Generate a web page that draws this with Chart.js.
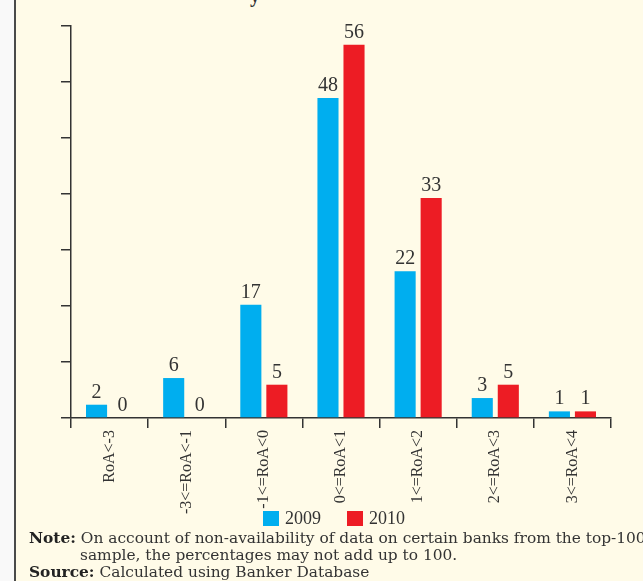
<!DOCTYPE html>
<html>
<head>
<meta charset="utf-8">
<script src="https://cdn.jsdelivr.net/npm/chart.js@4.4.1/dist/chart.umd.min.js"></script>
<style>
  html, body { margin: 0; padding: 0; background: #f9f9f9; }
  #page {
    position: absolute; left: 14px; top: 0; width: 629px; height: 581px;
    background: #fffbe8; border-left: 2px solid #4a4a4a; overflow: hidden;
    font-family: "Liberation Serif", serif; color: #333;
  }
  #wrap { position: absolute; left: 0; top: 0; width: 627px; height: 516px; }
  .title { position: absolute; left: 234px; top: -16px; font-weight: bold; font-size: 20px; }
  #legend { position: absolute; top: 509px; left: 247px; display: flex; font-size: 18px; line-height: 18px; }
  #legend span.item { display: flex; align-items: center; margin-right: 26px; }
  #legend span.box { display: inline-block; width: 16px; height: 15px; margin-right: 6px; }
  .note { position: absolute; left: 13px; font-family: "DejaVu Serif", serif; font-size: 15.4px; white-space: nowrap; line-height: 17px; }
  .note b { color: #222; }
</style>
</head>
<body>
<div id="page">
  <div class="title">y</div>
  <div id="wrap"><canvas id="chart"></canvas></div>
  <div id="legend"></div>
  <div class="note" style="top:530px"><b>Note:</b> On account of non-availability of data on certain banks from the top-100</div>
  <div class="note" style="top:547px; left:64px">sample, the percentages may not add up to 100.</div>
  <div class="note" style="top:564px"><b>Source:</b> Calculated using Banker Database</div>
</div>
<script>
const categories = ["RoA<-3", "-3<=RoA<-1", "-1<=RoA<0", "0<=RoA<1", "1<=RoA<2", "2<=RoA<3", "3<=RoA<4"];
const values2009 = [2, 6, 17, 48, 22, 3, 1];
const values2010 = [0, 0, 5, 56, 33, 5, 1];
const seriesNames = ["2009", "2010"];
const yTicks = [0, 8.4, 16.8, 25.2, 33.6, 42, 50.4, 58.8];

const valueLabels = {
  id: 'valueLabels',
  afterDatasetsDraw(chart) {
    const ctx = chart.ctx;
    ctx.save();
    ctx.font = '20px "Liberation Serif", serif';
    ctx.fillStyle = '#333';
    ctx.textAlign = 'center';
    ctx.textBaseline = 'alphabetic';
    chart.data.datasets.forEach((ds, i) => {
      chart.getDatasetMeta(i).data.forEach((bar, j) => {
        ctx.fillText(ds.data[j], bar.x, bar.y - 7);
      });
    });
    ctx.restore();
  }
};

const chart = new Chart(document.getElementById('chart'), {
  type: 'bar',
  data: {
    labels: categories,
    datasets: [
      { label: seriesNames[0], data: values2009, backgroundColor: '#00aeef' },
      { label: seriesNames[1], data: values2010, backgroundColor: '#ed1c24' }
    ]
  },
  options: {
    responsive: true,
    maintainAspectRatio: false,
    animation: false,
    categoryPercentage: 0.675,
    barPercentage: 0.81,
    layout: { padding: { top: 26, left: 45, right: 32, bottom: 0 } },
    scales: {
      x: {
        grid: { drawOnChartArea: false, tickLength: 10, color: '#333', lineWidth: 1.5 },
        border: { color: '#333', width: 1.5 },
        ticks: {
          minRotation: 90, maxRotation: 90, padding: 2,
          color: '#333', font: { family: '"Liberation Serif", serif', size: 16 }
        }
      },
      y: {
        min: 0, max: 58.8,
        afterBuildTicks: axis => { axis.ticks = yTicks.map(v => ({ value: v })); },
        grid: { drawOnChartArea: false, tickLength: 10, color: '#333', lineWidth: 1.5 },
        border: { color: '#333', width: 1.5 },
        ticks: { display: false }
      }
    },
    plugins: {
      legend: { display: false },
      tooltip: { enabled: false }
    }
  },
  plugins: [valueLabels]
});

// html legend built from the chart's datasets
const legend = document.getElementById('legend');
chart.data.datasets.forEach(ds => {
  const item = document.createElement('span');
  item.className = 'item';
  item.innerHTML = '<span class="box" style="background:' + ds.backgroundColor + '"></span>' + ds.label;
  legend.appendChild(item);
});
</script>
</body>
</html>
